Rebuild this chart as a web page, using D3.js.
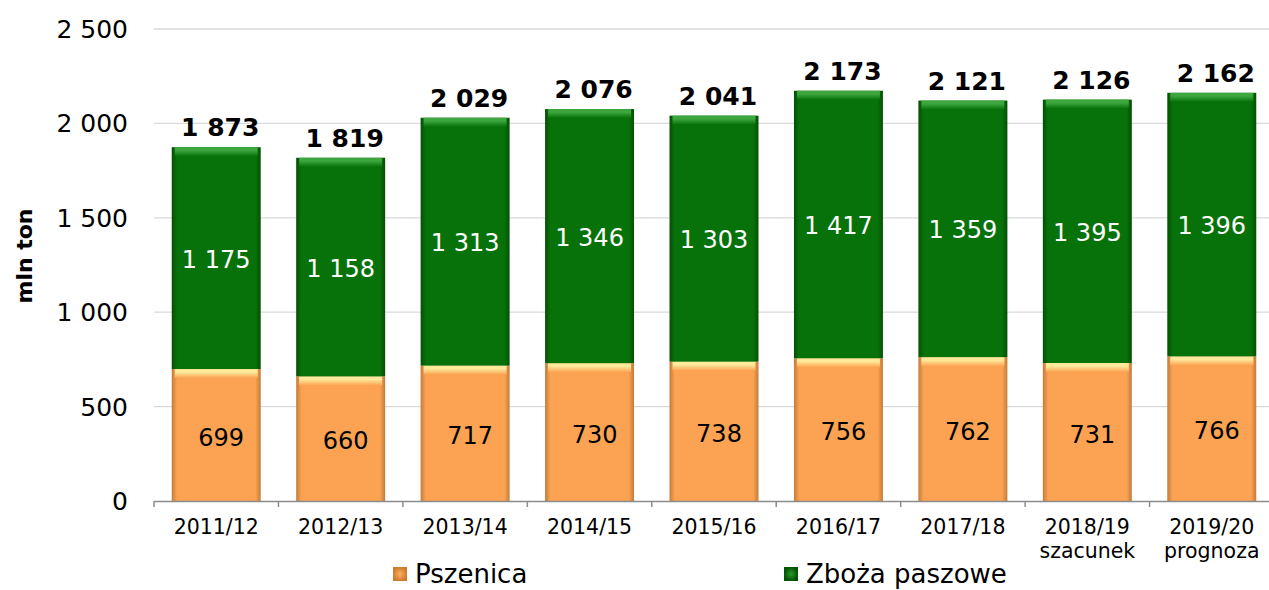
<!DOCTYPE html>
<html>
<head>
<meta charset="utf-8">
<script src="https://cdn.jsdelivr.net/npm/d3@7"></script>
<style>
  html, body { margin: 0; padding: 0; background: #ffffff; }
  svg { display: block; font-family: "DejaVu Sans", Verdana, sans-serif; }
</style>
</head>
<body>
<svg id="chart" width="1269" height="590"></svg>
<script>
const categories = ["2011/12", "2012/13", "2013/14", "2014/15", "2015/16", "2016/17", "2017/18", "2018/19", "2019/20"];
const categorySub = ["", "", "", "", "", "", "", "szacunek", "prognoza"];
const wheat = [699, 660, 717, 730, 738, 756, 762, 731, 766];
const feedGrains = [1175, 1158, 1313, 1346, 1303, 1417, 1359, 1395, 1396];
const totals = [1873, 1819, 2029, 2076, 2041, 2173, 2121, 2126, 2162];
const yTicks = [0, 500, 1000, 1500, 2000, 2500];
const seriesNames = ["Pszenica", "Zboża paszowe"];

const svg = d3.select("#chart");
const fmt = v => d3.format(",")(v).replace(/,/g, " ");

const x = d3.scaleBand().domain(categories).range([154, 1274]).paddingInner(0.285).paddingOuter(0.1425);
const y = d3.scaleLinear().domain([0, 2500]).range([501, 29]);

// gradients
const defs = svg.append("defs");
function hGrad(id, edge, base) {
  const g = defs.append("linearGradient").attr("id", id).attr("x1", "0").attr("x2", "1").attr("y1", "0").attr("y2", "0");
  g.append("stop").attr("offset", "0").attr("stop-color", edge);
  g.append("stop").attr("offset", "0.06").attr("stop-color", base);
  g.append("stop").attr("offset", "0.94").attr("stop-color", base);
  g.append("stop").attr("offset", "1").attr("stop-color", edge);
}
function vGrad(id, top, base) {
  const g = defs.append("linearGradient").attr("id", id).attr("x1", "0").attr("x2", "0").attr("y1", "0").attr("y2", "1");
  g.append("stop").attr("offset", "0").attr("stop-color", top);
  g.append("stop").attr("offset", "0.35").attr("stop-color", top);
  g.append("stop").attr("offset", "1").attr("stop-color", base);
}
hGrad("gBody", "#054f05", "#077209");
vGrad("gTop", "#3ea63e", "#077209");
hGrad("oBody", "#c47b3a", "#fba352");
vGrad("oTop", "#ffe99a", "#fba352");

// gridlines
svg.append("g").selectAll("line").data(yTicks.filter(t => t > 0)).join("line")
  .attr("x1", 154).attr("x2", 1269)
  .attr("y1", d => y(d)).attr("y2", d => y(d))
  .attr("stroke", "#d9d9d9").attr("stroke-width", 1.3);

// y tick labels
svg.append("g").selectAll("text").data(yTicks).join("text")
  .attr("x", 128).attr("y", d => y(d)).attr("dy", "0.36em")
  .attr("text-anchor", "end").attr("font-size", 25).attr("fill", "#000")
  .text(d => fmt(d));

// y axis title
svg.append("text")
  .attr("transform", "translate(32,256) rotate(-90)")
  .attr("text-anchor", "middle").attr("font-size", 22).attr("font-weight", "bold")
  .text("mln ton");

// bars
const bw = x.bandwidth();
function drawSeg(sel, x0, y0, y1, body, top) {
  const h = y0 - y1;
  sel.append("rect").attr("x", x0).attr("y", y1).attr("width", bw).attr("height", h).attr("fill", `url(#${body})`);
  sel.append("rect").attr("x", x0 + 3).attr("y", y1).attr("width", bw - 6).attr("height", Math.min(9, h)).attr("fill", `url(#${top})`);
}
const barG = svg.append("g");
categories.forEach((c, i) => {
  const g = barG.append("g");
  const x0 = x(c);
  drawSeg(g, x0, y(0), y(wheat[i]), "oBody", "oTop");
  drawSeg(g, x0, y(wheat[i]), y(wheat[i] + feedGrains[i]), "gBody", "gTop");
});

// x axis
const xAxis = svg.append("g");
xAxis.append("line").attr("x1", 154).attr("x2", 1269).attr("y1", 501.5).attr("y2", 501.5)
  .attr("stroke", "#8c8c8c").attr("stroke-width", 1.5);
const bounds = categories.map(c => x(c) - x.step() * x.paddingInner() / 2);
xAxis.selectAll("line.tick").data(bounds).join("line").attr("class", "tick")
  .attr("x1", d => d).attr("x2", d => d).attr("y1", 501).attr("y2", 507)
  .attr("stroke", "#8c8c8c").attr("stroke-width", 1.5);

// category labels
svg.append("g").selectAll("text").data(categories).join("text")
  .attr("x", d => x(d) + bw / 2).attr("y", 534)
  .attr("text-anchor", "middle").attr("font-size", 20.5).attr("fill", "#000")
  .text(d => d);
svg.append("g").selectAll("text").data(categories.map((c, i) => ({c, s: categorySub[i]})).filter(d => d.s)).join("text")
  .attr("x", d => x(d.c) + bw / 2).attr("y", 558)
  .attr("text-anchor", "middle").attr("font-size", 20.5).attr("fill", "#000")
  .text(d => d.s);

// value labels
svg.append("g").selectAll("text").data(wheat).join("text")
  .attr("x", (d, i) => x(categories[i]) + bw / 2 + 5)
  .attr("y", (d, i) => (y(0) + y(d)) / 2 + 2).attr("dy", "0.36em")
  .attr("text-anchor", "middle").attr("font-size", 24).attr("fill", "#000")
  .text(d => fmt(d));
svg.append("g").selectAll("text").data(feedGrains).join("text")
  .attr("x", (d, i) => x(categories[i]) + bw / 2)
  .attr("y", (d, i) => (y(wheat[i]) + y(wheat[i] + d)) / 2 + 1).attr("dy", "0.36em")
  .attr("text-anchor", "middle").attr("font-size", 24).attr("fill", "#fff")
  .text(d => fmt(d));
svg.append("g").selectAll("text").data(totals).join("text")
  .attr("x", (d, i) => x(categories[i]) + bw / 2 + 4)
  .attr("y", d => y(d) - 20).attr("dy", "0.36em")
  .attr("text-anchor", "middle").attr("font-size", 25).attr("font-weight", "bold").attr("fill", "#000")
  .text(d => fmt(d));

// legend
const legendPos = [{sq: 393, tx: 415}, {sq: 784, tx: 806}];
const legendFill = ["url(#oLeg)", "url(#gLeg)"];
const lo = defs.append("radialGradient").attr("id", "oLeg");
lo.append("stop").attr("offset", "0").attr("stop-color", "#fbb060");
lo.append("stop").attr("offset", "1").attr("stop-color", "#d07a30");
const lg = defs.append("radialGradient").attr("id", "gLeg");
lg.append("stop").attr("offset", "0").attr("stop-color", "#2a9a2a");
lg.append("stop").attr("offset", "1").attr("stop-color", "#055205");
seriesNames.forEach((n, i) => {
  svg.append("rect").attr("x", legendPos[i].sq).attr("y", 567).attr("width", 14).attr("height", 14).attr("fill", legendFill[i]);
  svg.append("text").attr("x", legendPos[i].tx).attr("y", 583).attr("font-size", 26).attr("fill", "#000").text(n);
});
</script>
</body>
</html>
